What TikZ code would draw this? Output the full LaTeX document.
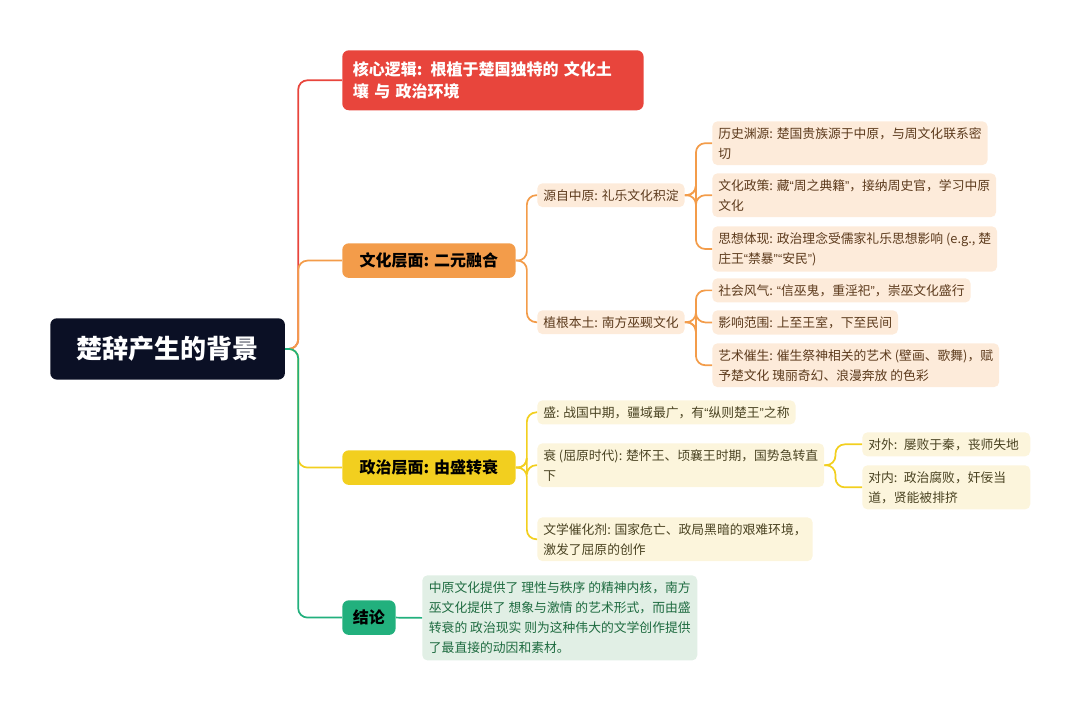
\documentclass[tikz,border=0pt]{standalone}
\usepackage{fontspec}
\setmainfont{Noto Sans CJK SC}
\newfontfamily\quotefont{Liberation Sans}
\newcommand{\oq}{{\quotefont “}}
\newcommand{\cq}{{\quotefont ”}}
\usetikzlibrary{positioning}
\definecolor{rootc}{HTML}{0B1025}
\definecolor{redc}{HTML}{E8453C}
\definecolor{orac}{HTML}{F39C4A}
\definecolor{yelc}{HTML}{F2CF1F}
\definecolor{grnc}{HTML}{22B07D}
\definecolor{oral}{HTML}{FDEBDA}
\definecolor{yell}{HTML}{FCF5DC}
\definecolor{grnl}{HTML}{E1EFE5}
\definecolor{oratxt}{HTML}{5C3A1C}
\definecolor{yeltxt}{HTML}{4A4322}
\definecolor{grntxt}{HTML}{1E6B40}
\tikzset{
  basic/.style  = {rectangle, rounded corners=4pt, inner sep=4.5pt, align=left,
                   anchor=north west, font=\fontsize{9.6}{15}\selectfont},
  topic/.style  = {basic, rounded corners=5pt, inner xsep=8pt, text=white,
                   font=\fontsize{12}{17}\selectfont\bfseries},
  level 2/.style = {basic, fill=#1l, text=#1txt},
  level 3/.style = {basic, fill=#1l, text=#1txt},
  link/.style   = {line width=1.3pt, rounded corners=7pt}
}
\begin{document}
\begin{tikzpicture}[x=0.75pt, y=-0.75pt]
\useasboundingbox (0,0) rectangle (1080,712);

% root of the map
\node[basic, fill=rootc, text=white, rounded corners=5pt, minimum width=176pt,
      minimum height=46pt, align=center, font=\fontsize{19.5}{24}\selectfont\bfseries]
      (root) at (50,318) {楚辞产生的背景};

% the first level
\node[topic, fill=redc, minimum height=45pt, text width=210pt] (core) at (342,50)
     {核心逻辑: 根植于楚国独特的 文化土\\壤 与 政治环境};
\node[topic, fill=orac, text=black, minimum width=130pt, minimum height=26pt] (wh) at (342,243) {文化层面: 二元融合};
\node[topic, fill=yelc, text=black, minimum width=130pt, minimum height=26pt] (zz) at (342,450) {政治层面: 由盛转衰};
\node[topic, fill=grnc, text=black, minimum height=26pt] (jl) at (342,600) {结论};

% the second level
\node[level 2=ora] (wh1) at (537,183) {源自中原: 礼乐文化积淀};
\node[level 2=ora] (wh2) at (537,310) {植根本土: 南方巫觋文化};
\node[level 2=yel] (zz1) at (537,400) {盛: 战国中期，疆域最广，有\oq 纵则楚王\cq 之称};
\node[level 2=yel] (zz2) at (537,443) {衰 (屈原时代): 楚怀王、顷襄王时期，国势急转直\\下};
\node[level 2=yel] (zz3) at (537,517) {文学催化剂: 国家危亡、政局黑暗的艰难环境，\\激发了屈原的创作};
\node[level 2=grn, inner sep=5pt] (jl1) at (422,575)
     {中原文化提供了 理性与秩序 的精神内核，南方\\巫文化提供了 想象与激情 的艺术形式，而由盛\\转衰的 政治现实 则为这种伟大的文学创作提供\\了最直接的动因和素材。};

% the third level
\begin{scope}[every node/.style={level 3=ora}]
\node (wh11) at (712,121) {历史渊源: 楚国贵族源于中原，与周文化联系密\\切};
\node (wh12) at (712,173) {文化政策: 藏\oq 周之典籍\cq，接纳周史官，学习中原\\文化};
\node (wh13) at (712,226) {思想体现: 政治理念受儒家礼乐思想影响 (e.g., 楚\\庄王\oq 禁暴\cq\oq 安民\cq)};
\node (wh21) at (712,278) {社会风气: \oq 信巫鬼，重淫祀\cq，崇巫文化盛行};
\node (wh22) at (712,310) {影响范围: 上至王室，下至民间};
\node (wh23) at (712,343) {艺术催生: 催生祭神相关的艺术 (壁画、歌舞)，赋\\予楚文化 瑰丽奇幻、浪漫奔放 的色彩};
\end{scope}
\begin{scope}[every node/.style={level 3=yel, text width=117pt}]
\node (zz21) at (862,432) {对外: 屡败于秦，丧师失地};
\node (zz22) at (862,465) {对内: 政治腐败，奸佞当\\道，贤能被排挤};
\end{scope}

% lines from the root to the first level
\draw[link, redc] (root.east) -- ++(13,0) |- (core.west);
\draw[link, orac] (root.east) -- ++(13,0) |- (wh.west);
\draw[link, yelc] (root.east) -- ++(13,0) |- (zz.west);
\draw[link, grnc] (root.east) -- ++(13,0) |- (jl.west);
\draw[link, grnc] (jl.east) -- (jl1.west);

% lines to every child
\foreach \value in {1,2}
  \draw[link, orac] (wh.east) -- ++(11,0) |- (wh\value.west);
\foreach \value in {1,...,3}
  \draw[link, orac] (wh1.east) -- ++(11,0) |- (wh1\value.west);
\foreach \value in {1,...,3}
  \draw[link, orac] (wh2.east) -- ++(11,0) |- (wh2\value.west);
\foreach \value in {1,...,3}
  \draw[link, yelc] (zz.east) -- ++(11,0) |- (zz\value.west);
\foreach \value in {1,2}
  \draw[link, yelc] (zz2.east) -- ++(11,0) |- (zz2\value.west);
\end{tikzpicture}
\end{document}
